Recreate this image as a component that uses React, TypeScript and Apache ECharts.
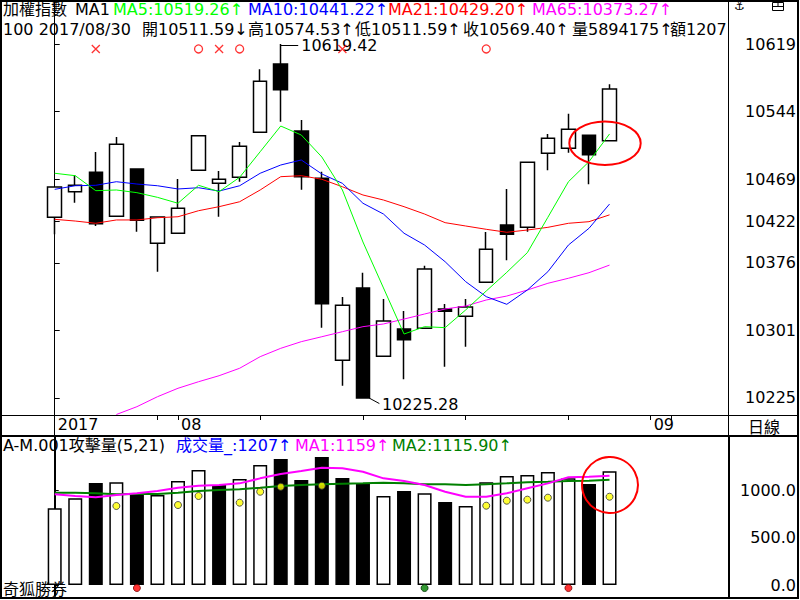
import React, { useEffect, useRef } from 'react';
import * as echarts from 'echarts';

// ---------- data ----------
const dates = [
  '2017/07/24', '2017/07/25', '2017/07/26', '2017/07/27', '2017/07/28', '2017/07/31',
  '2017/08/01', '2017/08/02', '2017/08/03', '2017/08/04', '2017/08/07', '2017/08/08',
  '2017/08/09', '2017/08/10', '2017/08/11', '2017/08/14', '2017/08/15', '2017/08/16',
  '2017/08/17', '2017/08/18', '2017/08/21', '2017/08/22', '2017/08/23', '2017/08/24',
  '2017/08/25', '2017/08/28', '2017/08/29', '2017/08/30', '2017/08/31', '2017/09/01',
];
const opens = [10426.5, 10455.0, 10476.6, 10427.6, 10480.2, 10397.5, 10408.7, 10478.8, 10464.3, 10471.0, 10521.1, 10597.2, 10522.5, 10469.9, 10267.3, 10347.8, 10271.7, 10302.1, 10302.9, 10324.4, 10316.2, 10354.1, 10417.9, 10415.3, 10497.7, 10503.3, 10517.8, 10511.59];
const closes = [10460.2, 10462.1, 10419.3, 10507.7, 10423.1, 10426.8, 10436.5, 10517.3, 10468.8, 10505.5, 10577.9, 10568.5, 10471.7, 10330.3, 10328.5, 10225.28, 10311.0, 10290.2, 10368.9, 10321.8, 10326.6, 10390.8, 10407.5, 10487.7, 10514.4, 10524.4, 10496.2, 10569.40];
const lows = [10407.5, 10442.7, 10416.8, 10427.6, 10410.4, 10365.9, 10408.7, 10478.8, 10427.1, 10466.1, 10521.1, 10532.9, 10457.2, 10303.6, 10239.0, 10225.28, 10271.7, 10246.1, 10302.9, 10260.1, 10282.4, 10354.1, 10378.6, 10410.4, 10478.8, 10498.4, 10463.2, 10511.59];
const highs = [10460.2, 10473.6, 10499.2, 10515.9, 10480.2, 10426.8, 10469.1, 10517.3, 10478.0, 10510.3, 10591.2, 10619.42, 10534.8, 10477.2, 10337.7, 10364.8, 10335.5, 10322.1, 10372.6, 10329.9, 10335.5, 10410.1, 10458.0, 10487.7, 10519.2, 10541.8, 10517.8, 10574.53];

const ma5 = [10475.5, 10472.8, 10456.1, 10456.9, 10453.9, 10448.7, 10442.1, 10462.1, 10455.0, 10471.0, 10499.5, 10528.1, 10518.1, 10493.6, 10456.9, 10399.0, 10347.8, 10296.5, 10304.7, 10303.6, 10323.3, 10344.4, 10365.2, 10387.1, 10426.5, 10466.1, 10488.4, 10519.26];
const ma10 = [10457.6, 10461.6, 10462.1, 10466.1, 10463.5, 10461.6, 10458.0, 10459.4, 10455.7, 10461.6, 10475.5, 10484.7, 10490.3, 10474.7, 10464.3, 10442.1, 10430.1, 10408.7, 10395.6, 10377.0, 10354.8, 10338.1, 10329.6, 10345.5, 10365.9, 10395.6, 10414.2, 10441.22];
const ma21 = [10424.2, 10422.3, 10419.8, 10423.5, 10423.5, 10426.0, 10427.1, 10433.8, 10438.3, 10443.8, 10456.9, 10471.7, 10472.8, 10468.8, 10460.5, 10451.3, 10445.7, 10438.3, 10430.1, 10420.5, 10416.8, 10413.1, 10409.8, 10412.3, 10415.3, 10419.8, 10421.6, 10429.20];
const ma65 = [null, null, null, 10206.9, 10215.6, 10226.7, 10236.1, 10243.4, 10250.1, 10258.4, 10271.3, 10280.6, 10288.0, 10293.5, 10299.1, 10304.7, 10307.7, 10313.2, 10318.8, 10324.4, 10327.7, 10334.4, 10338.8, 10345.5, 10353.0, 10358.6, 10364.8, 10373.27];

const priceTicks = [10225.28, 10300.56, 10375.84, 10422.35, 10468.86, 10544.14, 10619.42];
const dateTickIdx = [5, 6, 10, 15, 20, 25, 29, 30];
const dateLabelIdx = [0, 6, 29];

const crossIdx = [2, 8, 14];
const circleIdx = [7, 9, 21];

const volumes = [813, 919, 1082, 1089, 965, 954, 1103, 1220, 1060, 1124, 1273, 1336, 1113, 1357, 1135, 1078, 944, 997, 972, 880, 838, 1089, 1156, 1166, 1198, 1131, 1071, 1207];
const volDown = [0, 0, 1, 0, 1, 0, 0, 0, 1, 0, 0, 1, 1, 1, 1, 1, 0, 1, 0, 1, 0, 0, 0, 0, 0, 0, 1, 0];
const volMA1 = [962, 944, 930, 954, 972, 997, 1032, 1053, 1060, 1078, 1131, 1177, 1209, 1244, 1237, 1201, 1131, 1103, 1060, 989, 936, 936, 972, 1025, 1078, 1142, 1148, 1159];
const volMA2 = [979, 979, 972, 962, 965, 965, 979, 997, 1007, 1015, 1032, 1050, 1060, 1068, 1074, 1078, 1085, 1078, 1068, 1068, 1060, 1068, 1078, 1089, 1095, 1103, 1106, 1115.90];
const attackIdx = [3, 6, 7, 9, 10, 11, 13, 21, 22, 23, 24, 27];
const attackVals = [838, 848, 944, 873, 989, 1042, 1053, 841, 894, 905, 926, 936];
const redDotIdx = [4, 25];
const greenDotIdx = [18];
const volTicks = [0, 250, 500, 750, 1000];
const volLabels = [0, 500, 1000];

const headerCode = '100';
const lastVolShares = 5894175;

// ---------- layout constants ----------
const FONT = '"DejaVu Sans", "Noto Sans CJK TC", sans-serif';
const X_MIN = -2.613;
const X_MAX = 32.765;
const Y_MIN = 10206.35;
const Y_MAX = 10667.3;
const V_MIN = -116.6;
const V_MAX = 1569.5;
const SIGNAL_LEVEL = 10613.9;
const VOL_DOT_LEVEL = -32;

const last = closes.length - 1;

function txt(x: number, y: number, text: string, fill = '#000', size = 16, align = 'left') {
  return {
    type: 'text',
    x,
    y,
    z: 50,
    style: { text, fill, fontSize: size, fontFamily: FONT, verticalAlign: 'middle', align },
  };
}

export default function App() {
  const ref = useRef<HTMLDivElement>(null);

  useEffect(() => {
    const chart = echarts.init(ref.current!, null, { renderer: 'svg' });

    const candleData = opens.map((o, i) => [i, o, closes[i], lows[i], highs[i]]);
    const hi = Math.max(...highs);
    const hiIdx = highs.indexOf(hi);
    const lo = Math.min(...lows);
    const loIdx = lows.indexOf(lo);

    const line = (data: (number | null)[], color: string, width: number, xi: number, yi: number) => ({
      type: 'line',
      xAxisIndex: xi,
      yAxisIndex: yi,
      data: data.map((v, i) => [i, v]),
      symbol: 'none',
      showSymbol: false,
      connectNulls: false,
      lineStyle: { color, width },
      z: 4,
      silent: true,
    });

    const option: any = {
      animation: false,
      backgroundColor: '#fff',
      textStyle: { fontFamily: FONT },
      grid: [
        { left: 1, top: 1, width: 727, height: 414 },
        { left: 1, top: 437, width: 727, height: 159 },
      ],
      xAxis: [
        {
          type: 'value', gridIndex: 0, min: X_MIN, max: X_MAX, position: 'bottom',
          axisLine: { show: true, lineStyle: { color: '#000', width: 1 } },
          axisTick: { show: true, length: 5, customValues: dateTickIdx, lineStyle: { color: '#000', width: 1 } },
          axisLabel: {
            show: true, customValues: dateLabelIdx, color: '#000', fontSize: 16, fontFamily: FONT,
            align: 'left', margin: 1, padding: [0, 0, 0, 3],
            formatter: (v: number) => {
              const i = Math.round(v);
              const d = dates[i] || '';
              return i === 0 ? d.slice(0, 4) : d.slice(5, 7);
            },
          },
          splitLine: { show: false },
        },
        {
          type: 'value', gridIndex: 0, min: X_MIN, max: X_MAX, position: 'bottom',
          axisLine: { show: false },
          axisTick: { show: true, length: 20, customValues: [0], lineStyle: { color: '#000', width: 1 } },
          axisLabel: { show: false },
          splitLine: { show: false },
        },
        {
          type: 'value', gridIndex: 1, min: X_MIN, max: X_MAX, show: false,
          splitLine: { show: false },
        },
      ],
      yAxis: [
        {
          type: 'value', gridIndex: 0, min: Y_MIN, max: Y_MAX, position: 'right',
          axisLine: { show: true, lineStyle: { color: '#000', width: 1 } },
          axisTick: { show: true, length: 5, customValues: priceTicks, lineStyle: { color: '#000' } },
          axisLabel: {
            show: true, customValues: priceTicks, color: '#000', fontSize: 16, fontFamily: FONT,
            align: 'right', margin: 68, formatter: (v: number) => String(Math.round(v)),
          },
          splitLine: { show: false },
        },
        {
          type: 'value', gridIndex: 1, min: V_MIN, max: V_MAX, position: 'right',
          axisLine: { show: true, lineStyle: { color: '#000', width: 2 } },
          axisTick: { show: true, length: 4, customValues: volTicks, lineStyle: { color: '#000' } },
          axisLabel: {
            show: true, customValues: volLabels, color: '#000', fontSize: 16, fontFamily: FONT,
            align: 'right', margin: 68, formatter: (v: number) => v.toFixed(1),
          },
          splitLine: { show: false },
        },
      ],
      series: [
        {
          type: 'candlestick',
          xAxisIndex: 0,
          yAxisIndex: 0,
          data: candleData,
          encode: { x: 0, y: [1, 2, 3, 4] },
          barWidth: 14,
          itemStyle: { color: '#fff', color0: '#000', borderColor: '#000', borderColor0: '#000', borderWidth: 1.5 },
          z: 3,
          silent: true,
          markLine: {
            silent: true,
            symbol: ['none', 'none'],
            animation: false,
            lineStyle: { color: '#000', width: 1, type: 'solid' },
            label: {
              show: true, position: 'end', distance: 3, color: '#000', fontSize: 16, fontFamily: FONT,
              formatter: (p: any) => (p.dataIndex === 0 ? hi.toFixed(2) : lo.toFixed(2)),
            },
            data: [
              [{ coord: [hiIdx, hi - 1.8] }, { coord: [hiIdx + 0.85, hi - 1.8] }],
              [{ coord: [loIdx + 0.3, lo] }, { coord: [loIdx + 0.8, lo - 6.2] }],
            ],
          },
        },
        line(ma65, '#ff00ff', 1, 0, 0),
        line(ma21, '#ff0000', 1, 0, 0),
        line(ma10, '#0000ff', 1, 0, 0),
        line(ma5, '#00ff00', 1, 0, 0),
        {
          type: 'scatter', xAxisIndex: 0, yAxisIndex: 0, silent: true, z: 6,
          data: crossIdx.map((i) => [i, SIGNAL_LEVEL]),
          symbol: 'path://M0,0L10,10M10,0L0,10',
          symbolSize: 8,
          itemStyle: { color: 'transparent', borderColor: '#ff0000', borderWidth: 1.3 },
        },
        {
          type: 'scatter', xAxisIndex: 0, yAxisIndex: 0, silent: true, z: 6,
          data: circleIdx.map((i) => [i, SIGNAL_LEVEL]),
          symbol: 'circle',
          symbolSize: 8,
          itemStyle: { color: 'transparent', borderColor: '#ff0000', borderWidth: 1.3 },
        },
        {
          type: 'bar', xAxisIndex: 2, yAxisIndex: 1, silent: true, barWidth: 14, z: 2,
          data: volumes.map((v, i) => ({ value: [i, v], itemStyle: { color: volDown[i] ? '#000' : '#fff' } })),
          itemStyle: { borderColor: '#000', borderWidth: 1.5 },
        },
        line(volMA2, '#008000', 2, 2, 1),
        line(volMA1, '#ff00ff', 2, 2, 1),
        {
          type: 'scatter', xAxisIndex: 2, yAxisIndex: 1, silent: true, z: 7,
          data: attackIdx.map((i, k) => [i, attackVals[k]]),
          symbol: 'circle', symbolSize: 7,
          itemStyle: { color: '#ffff00', borderColor: '#333', borderWidth: 1 },
        },
        {
          type: 'scatter', xAxisIndex: 2, yAxisIndex: 1, silent: true, z: 7,
          data: redDotIdx.map((i) => [i, VOL_DOT_LEVEL]),
          symbol: 'circle', symbolSize: 7,
          itemStyle: { color: '#ff0000', borderColor: '#7a0000', borderWidth: 1 },
        },
        {
          type: 'scatter', xAxisIndex: 2, yAxisIndex: 1, silent: true, z: 7,
          data: greenDotIdx.map((i) => [i, VOL_DOT_LEVEL]),
          symbol: 'circle', symbolSize: 7,
          itemStyle: { color: '#008000', borderColor: '#003300', borderWidth: 1 },
        },
      ],
      graphic: [
        // frame & panel separators
        { type: 'rect', z: 60, shape: { x: 1, y: 1, width: 797, height: 597 }, style: { fill: 'none', stroke: '#000', lineWidth: 2 } },
        { type: 'line', z: 60, shape: { x1: 0, y1: 415.5, x2: 798, y2: 415.5 }, style: { stroke: '#000', lineWidth: 1 } },
        { type: 'line', z: 60, shape: { x1: 0, y1: 436, x2: 798, y2: 436 }, style: { stroke: '#000', lineWidth: 2 } },
        { type: 'line', z: 60, shape: { x1: 728.5, y1: 0, x2: 728.5, y2: 436 }, style: { stroke: '#000', lineWidth: 1 } },
        { type: 'line', z: 60, shape: { x1: 729, y1: 436, x2: 729, y2: 598 }, style: { stroke: '#000', lineWidth: 2 } },
        // icons
        txt(734, 6, '⚓', '#000', 12),
        { type: 'rect', z: 60, shape: { x: 772.5, y: 2.5, width: 11, height: 8 }, style: { fill: 'none', stroke: '#000', lineWidth: 1 } },
        { type: 'line', z: 60, shape: { x1: 772.5, y1: 6.5, x2: 783.5, y2: 6.5 }, style: { stroke: '#000', lineWidth: 1 } },
        { type: 'line', z: 60, shape: { x1: 778, y1: 2.5, x2: 778, y2: 6.5 }, style: { stroke: '#000', lineWidth: 1 } },
        // header line 1
        txt(3, 9, '加權指數'),
        txt(75, 9, 'MA1'),
        txt(113, 9, `MA5:${ma5[last].toFixed(2)}↑`, '#00ff00'),
        txt(248, 9, `MA10:${ma10[last].toFixed(2)}↑`, '#0000ff'),
        txt(388, 9, `MA21:${ma21[last].toFixed(2)}↑`, '#ff0000'),
        txt(532, 9, `MA65:${(ma65[last] as number).toFixed(2)}↑`, '#ff00ff'),
        // header line 2
        txt(3, 29, `${headerCode} ${dates[last]}`),
        txt(142, 29, `開${opens[last].toFixed(2)}↓`),
        txt(248, 29, `高${highs[last].toFixed(2)}↑`),
        txt(355, 29, `低${lows[last].toFixed(2)}↑`),
        txt(463, 29, `收${closes[last].toFixed(2)}↑`),
        txt(572, 29, `量${lastVolShares}↑`),
        txt(670, 29, `額${volumes[last]}`),
        // right panel label
        txt(764, 427, '日線', '#000', 16, 'center'),
        // lower panel header
        txt(3, 445, 'A-M.001攻擊量(5,21)'),
        txt(176, 445, `成交量_:${volumes[last]}↑`, '#0000ff'),
        txt(295, 445, `MA1:${volMA1[last]}↑`, '#ff00ff'),
        txt(392, 445, `MA2:${volMA2[last].toFixed(2)}↑`, '#008000'),
        txt(3, 589, '奇狐勝券'),
        // highlight ellipses
        { type: 'ellipse', z: 55, shape: { cx: 605, cy: 143.3, rx: 35.7, ry: 21.7 }, style: { fill: 'none', stroke: '#ff0000', lineWidth: 2 } },
        { type: 'circle', z: 55, shape: { cx: 610, cy: 485, r: 28 }, style: { fill: 'none', stroke: '#ff0000', lineWidth: 2 } },
      ],
    };

    chart.setOption(option);
    return () => chart.dispose();
  }, []);

  return (
    <div
      ref={ref}
      style={{ position: 'absolute', left: 0, top: 0, width: 800, height: 600, background: '#fff' }}
    />
  );
}
